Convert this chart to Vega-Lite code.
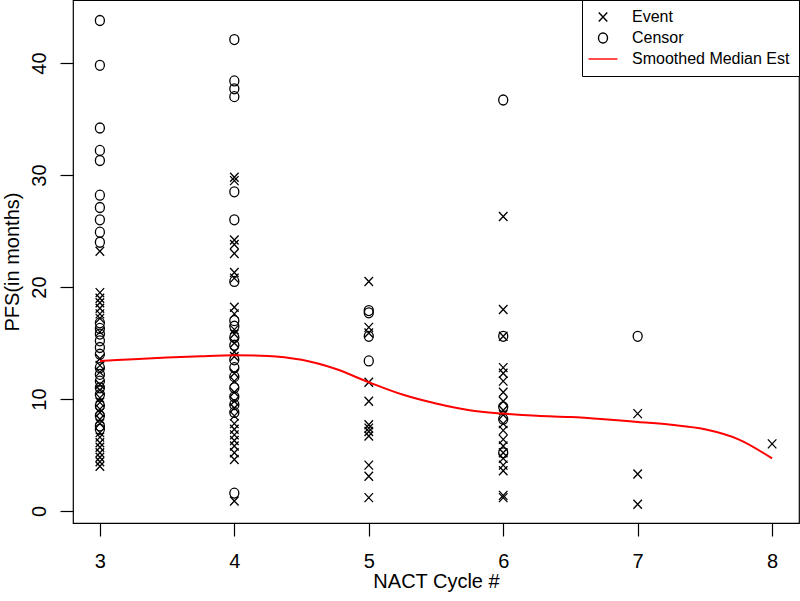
{
  "$schema": "https://vega.github.io/schema/vega-lite/v6.json",
  "width": 726,
  "height": 523,
  "autosize": {"type": "none"},
  "padding": {"left": 73, "top": 0, "right": 1, "bottom": 78},
  "background": "white",
  "config": {
    "font": "Liberation Sans",
    "view": {"stroke": "black", "strokeWidth": 1.2},
    "axis": {
      "domain": false, "grid": false, "tickColor": "black", "tickSize": 13, "tickWidth": 1.2,
      "labelColor": "black", "labelFontSize": 20, "labelFont": "Liberation Sans",
      "titleColor": "black", "titleFontSize": 20, "titleFont": "Liberation Sans", "titleFontWeight": "normal"
    },
    "legend": {
      "labelFont": "Liberation Sans", "labelFontSize": 16, "labelColor": "black"
    }
  },
  "layer": [
    {
      "data": {
        "values": [
          {"cycle": 3, "pfs": 43.8, "status": "Censor"},
          {"cycle": 3, "pfs": 39.8, "status": "Censor"},
          {"cycle": 3, "pfs": 34.2, "status": "Censor"},
          {"cycle": 3, "pfs": 32.2, "status": "Censor"},
          {"cycle": 3, "pfs": 31.3, "status": "Censor"},
          {"cycle": 3, "pfs": 28.2, "status": "Censor"},
          {"cycle": 3, "pfs": 27.1, "status": "Censor"},
          {"cycle": 3, "pfs": 26.0, "status": "Censor"},
          {"cycle": 3, "pfs": 24.9, "status": "Censor"},
          {"cycle": 3, "pfs": 24.0, "status": "Censor"},
          {"cycle": 3, "pfs": 16.8, "status": "Censor"},
          {"cycle": 3, "pfs": 16.3, "status": "Censor"},
          {"cycle": 3, "pfs": 15.8, "status": "Censor"},
          {"cycle": 3, "pfs": 15.2, "status": "Censor"},
          {"cycle": 3, "pfs": 14.6, "status": "Censor"},
          {"cycle": 3, "pfs": 14.0, "status": "Censor"},
          {"cycle": 3, "pfs": 12.8, "status": "Censor"},
          {"cycle": 3, "pfs": 12.2, "status": "Censor"},
          {"cycle": 3, "pfs": 11.6, "status": "Censor"},
          {"cycle": 3, "pfs": 11.0, "status": "Censor"},
          {"cycle": 3, "pfs": 10.4, "status": "Censor"},
          {"cycle": 3, "pfs": 9.4, "status": "Censor"},
          {"cycle": 3, "pfs": 8.5, "status": "Censor"},
          {"cycle": 3, "pfs": 7.6, "status": "Censor"},
          {"cycle": 3, "pfs": 7.3, "status": "Censor"},
          {"cycle": 3, "pfs": 23.2, "status": "Event"},
          {"cycle": 3, "pfs": 19.5, "status": "Event"},
          {"cycle": 3, "pfs": 19.0, "status": "Event"},
          {"cycle": 3, "pfs": 18.6, "status": "Event"},
          {"cycle": 3, "pfs": 18.1, "status": "Event"},
          {"cycle": 3, "pfs": 17.6, "status": "Event"},
          {"cycle": 3, "pfs": 17.2, "status": "Event"},
          {"cycle": 3, "pfs": 16.0, "status": "Event"},
          {"cycle": 3, "pfs": 13.6, "status": "Event"},
          {"cycle": 3, "pfs": 13.0, "status": "Event"},
          {"cycle": 3, "pfs": 12.4, "status": "Event"},
          {"cycle": 3, "pfs": 11.3, "status": "Event"},
          {"cycle": 3, "pfs": 10.8, "status": "Event"},
          {"cycle": 3, "pfs": 10.1, "status": "Event"},
          {"cycle": 3, "pfs": 9.7, "status": "Event"},
          {"cycle": 3, "pfs": 9.1, "status": "Event"},
          {"cycle": 3, "pfs": 8.8, "status": "Event"},
          {"cycle": 3, "pfs": 8.2, "status": "Event"},
          {"cycle": 3, "pfs": 7.8, "status": "Event"},
          {"cycle": 3, "pfs": 7.0, "status": "Event"},
          {"cycle": 3, "pfs": 6.6, "status": "Event"},
          {"cycle": 3, "pfs": 6.1, "status": "Event"},
          {"cycle": 3, "pfs": 5.7, "status": "Event"},
          {"cycle": 3, "pfs": 5.2, "status": "Event"},
          {"cycle": 3, "pfs": 4.8, "status": "Event"},
          {"cycle": 3, "pfs": 4.4, "status": "Event"},
          {"cycle": 3, "pfs": 4.0, "status": "Event"},
          {"cycle": 4, "pfs": 42.1, "status": "Censor"},
          {"cycle": 4, "pfs": 38.4, "status": "Censor"},
          {"cycle": 4, "pfs": 37.7, "status": "Censor"},
          {"cycle": 4, "pfs": 37.0, "status": "Censor"},
          {"cycle": 4, "pfs": 28.5, "status": "Censor"},
          {"cycle": 4, "pfs": 26.0, "status": "Censor"},
          {"cycle": 4, "pfs": 20.5, "status": "Censor"},
          {"cycle": 4, "pfs": 17.0, "status": "Censor"},
          {"cycle": 4, "pfs": 16.5, "status": "Censor"},
          {"cycle": 4, "pfs": 15.5, "status": "Censor"},
          {"cycle": 4, "pfs": 14.8, "status": "Censor"},
          {"cycle": 4, "pfs": 13.5, "status": "Censor"},
          {"cycle": 4, "pfs": 12.8, "status": "Censor"},
          {"cycle": 4, "pfs": 12.0, "status": "Censor"},
          {"cycle": 4, "pfs": 11.0, "status": "Censor"},
          {"cycle": 4, "pfs": 10.2, "status": "Censor"},
          {"cycle": 4, "pfs": 9.5, "status": "Censor"},
          {"cycle": 4, "pfs": 8.8, "status": "Censor"},
          {"cycle": 4, "pfs": 1.6, "status": "Censor"},
          {"cycle": 4, "pfs": 29.8, "status": "Event"},
          {"cycle": 4, "pfs": 29.5, "status": "Event"},
          {"cycle": 4, "pfs": 24.2, "status": "Event"},
          {"cycle": 4, "pfs": 23.8, "status": "Event"},
          {"cycle": 4, "pfs": 23.0, "status": "Event"},
          {"cycle": 4, "pfs": 21.3, "status": "Event"},
          {"cycle": 4, "pfs": 20.8, "status": "Event"},
          {"cycle": 4, "pfs": 18.2, "status": "Event"},
          {"cycle": 4, "pfs": 17.6, "status": "Event"},
          {"cycle": 4, "pfs": 16.2, "status": "Event"},
          {"cycle": 4, "pfs": 15.8, "status": "Event"},
          {"cycle": 4, "pfs": 15.0, "status": "Event"},
          {"cycle": 4, "pfs": 14.2, "status": "Event"},
          {"cycle": 4, "pfs": 13.8, "status": "Event"},
          {"cycle": 4, "pfs": 12.3, "status": "Event"},
          {"cycle": 4, "pfs": 11.6, "status": "Event"},
          {"cycle": 4, "pfs": 10.6, "status": "Event"},
          {"cycle": 4, "pfs": 9.8, "status": "Event"},
          {"cycle": 4, "pfs": 9.2, "status": "Event"},
          {"cycle": 4, "pfs": 8.5, "status": "Event"},
          {"cycle": 4, "pfs": 7.8, "status": "Event"},
          {"cycle": 4, "pfs": 7.3, "status": "Event"},
          {"cycle": 4, "pfs": 6.8, "status": "Event"},
          {"cycle": 4, "pfs": 6.3, "status": "Event"},
          {"cycle": 4, "pfs": 5.8, "status": "Event"},
          {"cycle": 4, "pfs": 5.2, "status": "Event"},
          {"cycle": 4, "pfs": 4.6, "status": "Event"},
          {"cycle": 4, "pfs": 0.9, "status": "Event"},
          {"cycle": 5, "pfs": 17.9, "status": "Censor"},
          {"cycle": 5, "pfs": 17.7, "status": "Censor"},
          {"cycle": 5, "pfs": 15.6, "status": "Censor"},
          {"cycle": 5, "pfs": 13.4, "status": "Censor"},
          {"cycle": 5, "pfs": 20.5, "status": "Event"},
          {"cycle": 5, "pfs": 16.4, "status": "Event"},
          {"cycle": 5, "pfs": 15.9, "status": "Event"},
          {"cycle": 5, "pfs": 11.5, "status": "Event"},
          {"cycle": 5, "pfs": 9.8, "status": "Event"},
          {"cycle": 5, "pfs": 7.7, "status": "Event"},
          {"cycle": 5, "pfs": 7.4, "status": "Event"},
          {"cycle": 5, "pfs": 7.1, "status": "Event"},
          {"cycle": 5, "pfs": 6.7, "status": "Event"},
          {"cycle": 5, "pfs": 4.1, "status": "Event"},
          {"cycle": 5, "pfs": 3.1, "status": "Event"},
          {"cycle": 5, "pfs": 1.2, "status": "Event"},
          {"cycle": 6, "pfs": 36.7, "status": "Censor"},
          {"cycle": 6, "pfs": 15.6, "status": "Censor"},
          {"cycle": 6, "pfs": 9.3, "status": "Censor"},
          {"cycle": 6, "pfs": 8.2, "status": "Censor"},
          {"cycle": 6, "pfs": 5.2, "status": "Censor"},
          {"cycle": 6, "pfs": 26.3, "status": "Event"},
          {"cycle": 6, "pfs": 18.0, "status": "Event"},
          {"cycle": 6, "pfs": 15.6, "status": "Event"},
          {"cycle": 6, "pfs": 12.8, "status": "Event"},
          {"cycle": 6, "pfs": 12.3, "status": "Event"},
          {"cycle": 6, "pfs": 11.6, "status": "Event"},
          {"cycle": 6, "pfs": 10.6, "status": "Event"},
          {"cycle": 6, "pfs": 9.8, "status": "Event"},
          {"cycle": 6, "pfs": 9.0, "status": "Event"},
          {"cycle": 6, "pfs": 8.6, "status": "Event"},
          {"cycle": 6, "pfs": 7.8, "status": "Event"},
          {"cycle": 6, "pfs": 7.2, "status": "Event"},
          {"cycle": 6, "pfs": 6.4, "status": "Event"},
          {"cycle": 6, "pfs": 5.8, "status": "Event"},
          {"cycle": 6, "pfs": 5.2, "status": "Event"},
          {"cycle": 6, "pfs": 4.7, "status": "Event"},
          {"cycle": 6, "pfs": 4.1, "status": "Event"},
          {"cycle": 6, "pfs": 3.6, "status": "Event"},
          {"cycle": 6, "pfs": 1.4, "status": "Event"},
          {"cycle": 6, "pfs": 1.2, "status": "Event"},
          {"cycle": 7, "pfs": 15.6, "status": "Censor"},
          {"cycle": 7, "pfs": 8.7, "status": "Event"},
          {"cycle": 7, "pfs": 3.3, "status": "Event"},
          {"cycle": 7, "pfs": 0.6, "status": "Event"},
          {"cycle": 8, "pfs": 6.0, "status": "Event"}
        ]
      },
      "mark": {"type": "point", "filled": false, "size": 100, "strokeWidth": 1.3, "opacity": 1},
      "encoding": {
        "x": {
          "field": "cycle", "type": "quantitative", "title": "NACT Cycle #",
          "scale": {"domain": [2.8, 8.2], "nice": false, "zero": false},
          "axis": {"values": [3, 4, 5, 6, 7, 8], "format": "d", "labelPadding": 15, "titleY": 58, "titleBaseline": "middle"}
        },
        "y": {
          "field": "pfs", "type": "quantitative", "title": "PFS(in months)",
          "scale": {"domain": [-1.07, 45.63], "nice": false, "zero": false},
          "axis": {"values": [0, 10, 20, 30, 40], "format": "d", "labelAngle": -90, "labelAlign": "center", "labelBaseline": "bottom", "labelPadding": 11, "titleX": -61, "titleBaseline": "middle"}
        },
        "shape": {
          "field": "status", "type": "nominal",
          "scale": {
            "domain": ["Event", "Censor", "Smoothed Median Est"],
            "range": ["M-0.85,-0.9L0.85,0.9M-0.85,0.9L0.85,-0.9", "M0,-1A0.9,1 0 1,1 0,1A0.9,1 0 1,1 0,-1Z", "M-2.9,0L2.9,0"]
          },
          "legend": {
            "title": null, "orient": "top-right", "offset": 0, "padding": 9,
            "strokeColor": "black", "fillColor": "white", "symbolStrokeWidth": 1.4,
            "symbolOffset": 4, "labelOffset": 21, "rowPadding": 5, "symbolSize": 100
          }
        },
        "color": {
          "field": "status", "type": "nominal",
          "scale": {"domain": ["Event", "Censor", "Smoothed Median Est"], "range": ["black", "black", "red"]},
          "legend": {
            "title": null, "orient": "top-right", "offset": 0, "padding": 9,
            "strokeColor": "black", "fillColor": "white", "symbolStrokeWidth": 1.4,
            "symbolOffset": 4, "labelOffset": 21, "rowPadding": 5, "symbolSize": 100
          }
        }
      }
    },
    {
      "data": {
        "values": [
          {"cycle": 3.0, "est": 13.4},
          {"cycle": 3.25, "est": 13.55},
          {"cycle": 3.5, "est": 13.7},
          {"cycle": 3.75, "est": 13.82},
          {"cycle": 4.0, "est": 13.9},
          {"cycle": 4.25, "est": 13.85},
          {"cycle": 4.5, "est": 13.5},
          {"cycle": 4.75, "est": 12.7},
          {"cycle": 5.0, "est": 11.5},
          {"cycle": 5.25, "est": 10.4},
          {"cycle": 5.5, "est": 9.6},
          {"cycle": 5.75, "est": 9.0},
          {"cycle": 6.0, "est": 8.7},
          {"cycle": 6.25, "est": 8.5},
          {"cycle": 6.5, "est": 8.4},
          {"cycle": 6.75, "est": 8.2},
          {"cycle": 7.0, "est": 7.95},
          {"cycle": 7.25, "est": 7.7},
          {"cycle": 7.5, "est": 7.3},
          {"cycle": 7.75, "est": 6.4},
          {"cycle": 8.0, "est": 4.7}
        ]
      },
      "mark": {"type": "line", "color": "red", "strokeWidth": 2, "interpolate": "monotone"},
      "encoding": {
        "x": {"field": "cycle", "type": "quantitative"},
        "y": {"field": "est", "type": "quantitative"}
      }
    }
  ]
}
